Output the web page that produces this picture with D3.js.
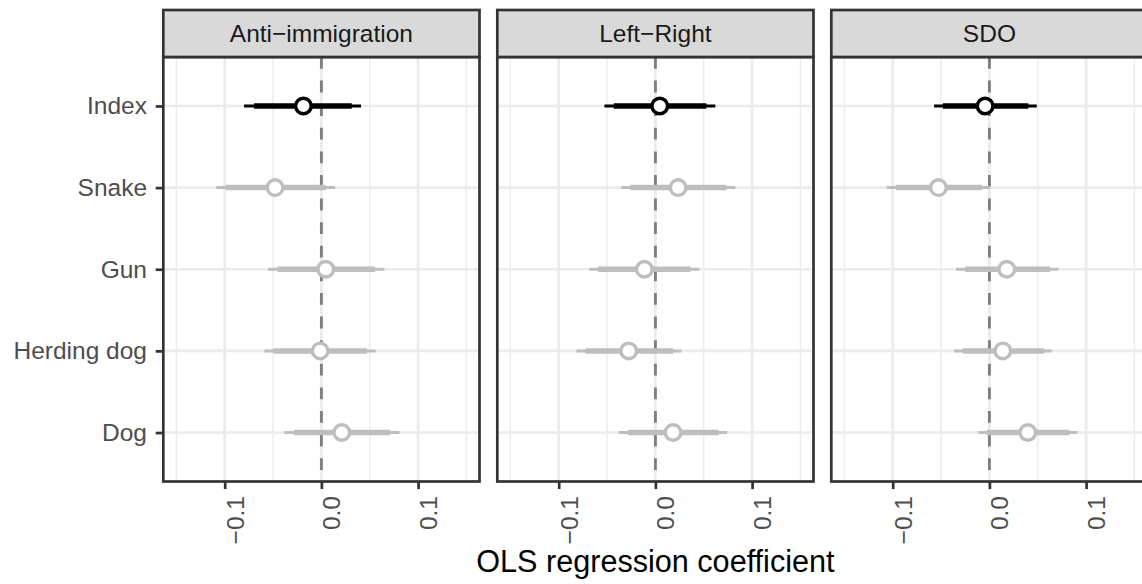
<!DOCTYPE html>
<html>
<head>
<meta charset="utf-8">
<script src="https://cdn.jsdelivr.net/npm/d3@7/dist/d3.min.js"></script>
<style>
  html, body { margin: 0; padding: 0; background: #fff; }
  svg { display: block; font-family: "Liberation Sans", Arial, Helvetica, sans-serif; }
</style>
</head>
<body>
<svg id="chart" width="1142" height="584"></svg>
<script>
// Outcome facets and predictors
const outcomes = ["Anti\u2212immigration", "Left\u2212Right", "SDO"];
const predictors = ["Index", "Snake", "Gun", "Herding dog", "Dog"];

// Point estimates, one row per outcome, in predictor order
const estimate = [
  [-0.0186, -0.0479, 0.0045, -0.0013, 0.0211],
  [ 0.0045,  0.0235, -0.0114, -0.0276, 0.0183],
  [-0.0044, -0.0527, 0.0180, 0.0139, 0.0397]
];
// Inner (thick) interval bounds
const innerLow = [
  [-0.0696, -0.0989, -0.0455, -0.0496, -0.0282],
  [-0.0431, -0.0259, -0.0593, -0.0724, -0.0286],
  [-0.0482, -0.0968, -0.0251, -0.0275, -0.0027]
];
const innerHigh = [
  [0.0314, 0.0046, 0.0555, 0.0470, 0.0710],
  [0.0527, 0.0734, 0.0362, 0.0183, 0.0655],
  [0.0403, -0.0079, 0.0628, 0.0566, 0.0827]
];
// Outer (thin) interval bounds
const outerLow = [
  [-0.0800, -0.1089, -0.0554, -0.0589, -0.0383],
  [-0.0527, -0.0352, -0.0683, -0.0817, -0.0380],
  [-0.0572, -0.1061, -0.0344, -0.0365, -0.0114]
];
const outerHigh = [
  [0.0410, 0.0141, 0.0652, 0.0563, 0.0807],
  [0.0620, 0.0827, 0.0455, 0.0269, 0.0742],
  [0.0490, 0.0007, 0.0714, 0.0645, 0.0910]
];

const xTicks = [-0.1, 0.0, 0.1];
const xTickLabels = ["\u22120.1", "0.0", "0.1"];
const xMinor = [-0.15, -0.05, 0.05, 0.15];
const xDomain = [-0.1635, 0.1635];
const xTitle = "OLS regression coefficient";

// Layout
const panelLeft0 = 163.3, panelW = 316.2, panelGap = 17.8;
const stripTop = 10, panelTop = 57, panelBottom = 481.5;
const lineW = 2.7;
const dark = "#333333";

const svg = d3.select("#chart");

const x = d3.scaleLinear().domain(xDomain).range([0, panelW]);
const y = d3.scalePoint().domain(predictors).range([0, panelBottom - panelTop]).padding(0.6);

const colourOf = p => p === "Index" ? "#000000" : "#BEBEBE";

outcomes.forEach((outcome, k) => {
  const left = panelLeft0 + k * (panelW + panelGap);
  const g = svg.append("g").attr("transform", `translate(${left},${panelTop})`);
  const h = panelBottom - panelTop;

  // grid
  g.selectAll(".minor").data(xMinor).join("line")
    .attr("x1", d => x(d)).attr("x2", d => x(d))
    .attr("y1", 0).attr("y2", h)
    .attr("stroke", "#EBEBEB").attr("stroke-width", 1.4);
  g.selectAll(".major").data(xTicks).join("line")
    .attr("x1", d => x(d)).attr("x2", d => x(d))
    .attr("y1", 0).attr("y2", h)
    .attr("stroke", "#EBEBEB").attr("stroke-width", lineW);
  g.selectAll(".hmajor").data(predictors).join("line")
    .attr("x1", 0).attr("x2", panelW)
    .attr("y1", d => y(d)).attr("y2", d => y(d))
    .attr("stroke", "#EBEBEB").attr("stroke-width", lineW);

  // zero reference line
  g.append("line")
    .attr("x1", x(0)).attr("x2", x(0)).attr("y1", 0).attr("y2", h)
    .attr("stroke", "#7F7F7F").attr("stroke-width", 2.9)
    .attr("stroke-dasharray", "11.8,11.8");

  const rows = predictors.map((p, i) => ({
    p, est: estimate[k][i],
    lo1: innerLow[k][i], hi1: innerHigh[k][i],
    lo2: outerLow[k][i], hi2: outerHigh[k][i]
  }));

  // outer intervals
  g.selectAll(".outer").data(rows).join("line")
    .attr("x1", d => x(d.lo2)).attr("x2", d => x(d.hi2))
    .attr("y1", d => y(d.p)).attr("y2", d => y(d.p))
    .attr("stroke", d => colourOf(d.p)).attr("stroke-width", 3);
  // inner intervals
  g.selectAll(".inner").data(rows).join("line")
    .attr("x1", d => x(d.lo1)).attr("x2", d => x(d.hi1))
    .attr("y1", d => y(d.p)).attr("y2", d => y(d.p))
    .attr("stroke", d => colourOf(d.p)).attr("stroke-width", 5.5);
  // estimates
  g.selectAll(".pt").data(rows).join("circle")
    .attr("cx", d => x(d.est)).attr("cy", d => y(d.p))
    .attr("r", 7.8)
    .attr("fill", "#ffffff")
    .attr("stroke", d => colourOf(d.p)).attr("stroke-width", 3.4);

  // panel border
  g.append("rect").attr("x", 0).attr("y", 0).attr("width", panelW).attr("height", h)
    .attr("fill", "none").attr("stroke", dark).attr("stroke-width", lineW);

  // strip
  const s = svg.append("g").attr("transform", `translate(${left},${stripTop})`);
  s.append("rect").attr("x", 0).attr("y", 0).attr("width", panelW).attr("height", panelTop - stripTop)
    .attr("fill", "#D9D9D9").attr("stroke", dark).attr("stroke-width", lineW);
  s.append("text").attr("x", panelW / 2).attr("y", (panelTop - stripTop) / 2)
    .attr("dy", "0.35em").attr("text-anchor", "middle")
    .attr("font-size", 24.5).attr("fill", "#1A1A1A").text(outcome);

  // bottom axis
  const ax = svg.append("g").attr("transform", `translate(${left},${panelBottom})`)
    .call(d3.axisBottom(x).tickValues(xTicks).tickSize(7.6).tickPadding(0)
      .tickFormat((d, i) => xTickLabels[i]));
  ax.select(".domain").remove();
  ax.selectAll(".tick line").attr("stroke", dark).attr("stroke-width", lineW);
  ax.selectAll(".tick text")
    .attr("x", null).attr("y", null).attr("dy", null)
    .attr("transform", "translate(18.5,14.5) rotate(-90)")
    .attr("text-anchor", "end")
    .attr("font-size", 24.5).attr("font-family", null).attr("fill", "#4D4D4D");
});

// left axis on the first panel
const ay = svg.append("g").attr("transform", `translate(${panelLeft0},${panelTop})`)
  .call(d3.axisLeft(y).tickSize(7.6).tickPadding(8.7));
ay.select(".domain").remove();
ay.selectAll(".tick line").attr("stroke", dark).attr("stroke-width", lineW);
ay.selectAll(".tick text").attr("font-size", 24.5).attr("font-family", null).attr("fill", "#4D4D4D");

// x title
const centre = panelLeft0 + (3 * panelW + 2 * panelGap) / 2;
svg.append("text").attr("x", centre).attr("y", 572)
  .attr("text-anchor", "middle").attr("font-size", 30.6).attr("fill", "#000")
  .text(xTitle);
</script>
</body>
</html>
